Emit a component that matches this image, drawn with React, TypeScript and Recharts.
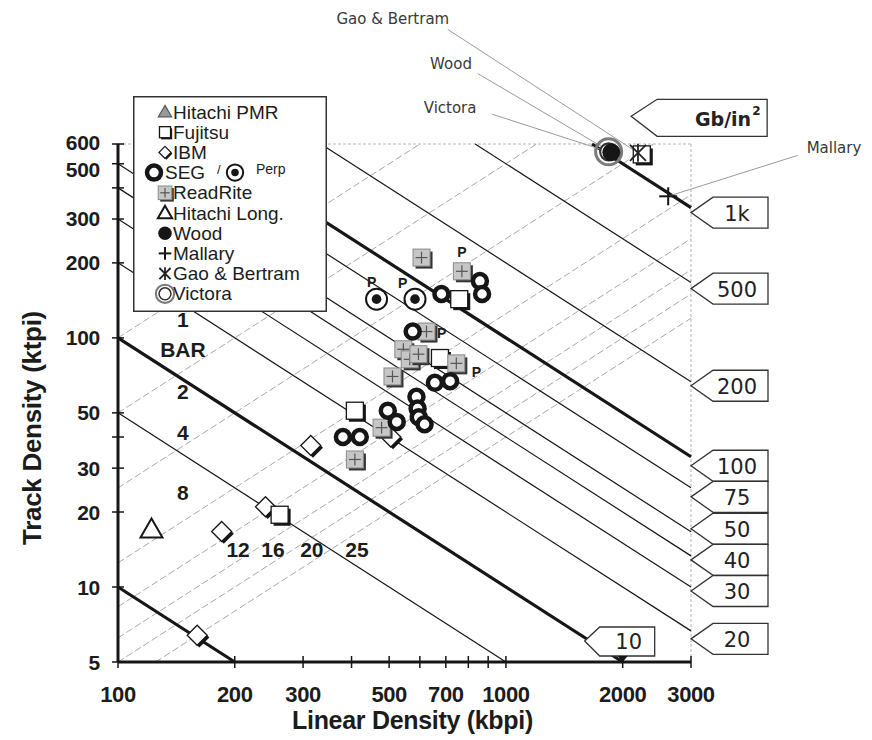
import React from 'react';
import { ScatterChart, Scatter, XAxis, YAxis, ReferenceLine, ReferenceDot, Label } from 'recharts';

type Pt = { x: number; y: number; text?: string };

// ---------- axes ----------
const xDomain = [100, 3000];
const yDomain = [5, 600];
const xTicks = [100, 200, 300, 400, 500, 600, 700, 800, 900, 1000, 2000, 3000];
const xTickLabels = [100, 200, 300, 500, 700, 1000, 2000, 3000];
const yTicks = [5, 10, 20, 30, 40, 50, 100, 200, 300, 400, 500, 600];
const yTickLabels = [5, 10, 20, 30, 50, 100, 200, 300, 500, 600];

// ---------- areal density lines (Gb/in^2) ----------
const arealDensities = [1, 5, 10, 20, 30, 40, 50, 75, 100, 200, 500, 1000];
const boldDensities = [1, 10, 100, 1000];
const rightTagDensities = [1000, 500, 200, 100, 75, 50, 40, 30, 20];
const rightTagTexts = ['1k', '500', '200', '100', '75', '50', '40', '30', '20'];
const rightTagDy = [5, 6, 4, 9, 9, -3, 4, 4, 8];
const bottomTagDensity = 10;
const bottomTagText = '10';

// ---------- bit aspect ratio lines ----------
const barValues = [1, 2, 4, 8, 12, 16, 20, 25];
const barLabelTexts = ['1', 'BAR', '2', '4', '8', '12', '16', '20', '25'];
const barLabelX = [147, 147, 147, 147, 147, 204, 251, 316, 413];
const barLabelY = [119, 90, 61, 41.7, 24, 14.1, 14.1, 14.1, 14.1];

const pLabelX = [451, 542, 770, 683, 840];
const pLabelY = [168, 166, 222, 105, 73];

// ---------- data series ----------
const hitachiPMR: Pt[] = [];
const fujitsu: Pt[] = [
  { x: 261, y: 19.5 }, { x: 408, y: 51 }, { x: 676, y: 83 }, { x: 758, y: 143 }, { x: 2240, y: 545 },
];
const ibm: Pt[] = [
  { x: 160, y: 6.4 }, { x: 185, y: 16.7 }, { x: 240, y: 21 }, { x: 314, y: 37 }, { x: 505, y: 40 },
];
const seg: Pt[] = [
  { x: 380, y: 40 }, { x: 420, y: 40 }, { x: 496, y: 51 }, { x: 523, y: 46 }, { x: 588, y: 58 },
  { x: 592, y: 52 }, { x: 596, y: 48 }, { x: 617, y: 45 }, { x: 656, y: 66 }, { x: 718, y: 67 },
  { x: 575, y: 106 }, { x: 682, y: 150 }, { x: 857, y: 169 }, { x: 868, y: 150 },
];
const perp: Pt[] = [{ x: 464, y: 143 }, { x: 583, y: 143 }];
const readRite: Pt[] = [
  { x: 408, y: 32.5 }, { x: 478, y: 43.6 }, { x: 510, y: 70 }, { x: 544, y: 90 }, { x: 565, y: 82 },
  { x: 595, y: 86 }, { x: 624, y: 106 }, { x: 606, y: 210 }, { x: 770, y: 185 }, { x: 745, y: 79 },
];
const hitachiLong: Pt[] = [{ x: 122, y: 17 }];
const wood: Pt[] = [{ x: 1870, y: 556 }];
const mallary: Pt[] = [{ x: 2620, y: 370 }];
const gaoBertram: Pt[] = [{ x: 2190, y: 553 }];
const victora: Pt[] = [{ x: 1840, y: 558 }];

// ---------- callouts ----------
const noteTexts = ['Gao & Bertram', 'Wood', 'Victora', 'Mallary'];
const noteTextX = [511, 722, 718, 7010];
const noteTextY = [1900, 1252, 840, 580];
const noteFromX = [708, 846, 922, 5650];
const noteFromY = [1730, 1150, 790, 540];
const noteTargets = [gaoBertram[0], wood[0], victora[0], mallary[0]];
const unitTagPos = { x: 2103, y: 775 };

const INK = '#161616';
const SANS = '"Liberation Sans", Arial, sans-serif';
const VERD = '"DejaVu Sans", Verdana, sans-serif';

// ---------- shapes ----------
const SquareOpen = ({ cx, cy, s = 1 }: any) => {
  const h = 8.5 * s;
  return (
    <g>
      <rect x={cx - h + 2.5 * s} y={cy - h + 2.5 * s} width={2 * h} height={2 * h} fill={INK} />
      <rect x={cx - h} y={cy - h} width={2 * h} height={2 * h} fill="#fff" stroke={INK} strokeWidth={1.3} />
    </g>
  );
};
const DiamondOpen = ({ cx, cy, s = 1 }: any) => {
  const h = 10 * s;
  const pts = (dx: number) =>
    `${cx + dx},${cy - h + dx} ${cx + h + dx},${cy + dx} ${cx + dx},${cy + h + dx} ${cx - h + dx},${cy + dx}`;
  return (
    <g>
      <polygon points={pts(2.2 * s)} fill={INK} />
      <polygon points={pts(0)} fill="#fff" stroke={INK} strokeWidth={1.3} />
    </g>
  );
};
const SegRing = ({ cx, cy, s = 1 }: any) => (
  <circle cx={cx} cy={cy} r={7 * s} fill="#fff" stroke={INK} strokeWidth={4.5 * s} />
);
const PerpMark = ({ cx, cy, s = 1 }: any) => (
  <g>
    <circle cx={cx} cy={cy} r={10.5 * s} fill="#fff" stroke={INK} strokeWidth={2} />
    <circle cx={cx} cy={cy} r={4.8 * s} fill={INK} />
  </g>
);
const ReadRiteMark = ({ cx, cy, s = 1 }: any) => {
  const h = 8.5 * s;
  return (
    <g>
      <rect x={cx - h + 2.5 * s} y={cy - h + 2.5 * s} width={2 * h} height={2 * h} fill="#333" />
      <rect x={cx - h} y={cy - h} width={2 * h} height={2 * h} fill="#c6c6c6" stroke="#8a8a8a" strokeWidth={1} />
      <line x1={cx - h * 0.7} y1={cy} x2={cx + h * 0.7} y2={cy} stroke="#555" strokeWidth={1.2} />
      <line x1={cx} y1={cy - h * 0.7} x2={cx} y2={cy + h * 0.7} stroke="#555" strokeWidth={1.2} />
    </g>
  );
};
const TriOpen = ({ cx, cy, s = 1 }: any) => (
  <polygon
    points={`${cx},${cy - 11 * s} ${cx + 11 * s},${cy + 8 * s} ${cx - 11 * s},${cy + 8 * s}`}
    fill="#fff" stroke={INK} strokeWidth={2} />
);
const TriFilled = ({ cx, cy, s = 1 }: any) => (
  <polygon
    points={`${cx},${cy - 11 * s} ${cx + 11 * s},${cy + 8 * s} ${cx - 11 * s},${cy + 8 * s}`}
    fill="#9a9a9a" stroke="#555" strokeWidth={1.2} />
);
const WoodDot = ({ cx, cy, s = 1 }: any) => <circle cx={cx} cy={cy} r={9 * s} fill={INK} />;
const PlusMark = ({ cx, cy, s = 1 }: any) => (
  <g stroke={INK} strokeWidth={2}>
    <line x1={cx - 9 * s} y1={cy} x2={cx + 9 * s} y2={cy} />
    <line x1={cx} y1={cy - 9 * s} x2={cx} y2={cy + 9 * s} />
  </g>
);
const AsteriskMark = ({ cx, cy, s = 1 }: any) => (
  <g stroke="#222" strokeWidth={1.8}>
    <line x1={cx} y1={cy - 9 * s} x2={cx} y2={cy + 9 * s} />
    <line x1={cx - 8 * s} y1={cy - 8 * s} x2={cx + 8 * s} y2={cy + 8 * s} />
    <line x1={cx - 8 * s} y1={cy + 8 * s} x2={cx + 8 * s} y2={cy - 8 * s} />
  </g>
);
const VictoraMark = ({ cx, cy, s = 1 }: any) => (
  <g fill="none">
    <circle cx={cx} cy={cy} r={13 * s} stroke="#7a7a7a" strokeWidth={3 * s} />
    <circle cx={cx} cy={cy} r={8.5 * s} stroke="#333" strokeWidth={2.2 * s} fill="#fff" />
  </g>
);
const TextMark = ({ cx, cy, payload, size, weight }: any) => (
  <text x={cx} y={cy} textAnchor="middle" dominantBaseline="central" fontFamily={SANS}
    fontWeight={weight} fontSize={size} fill="#1c1c1c">{payload?.text}</text>
);

// ---------- derived geometry ----------
function densitySegment(d: number) {
  const p = d * 1000;
  const x1 = Math.max(xDomain[0], p / yDomain[1]);
  const x2 = Math.min(xDomain[1], p / yDomain[0]);
  return [{ x: x1, y: p / x1 }, { x: x2, y: p / x2 }];
}
function barSegment(b: number) {
  const x1 = Math.max(xDomain[0], yDomain[0] * b);
  const x2 = Math.min(xDomain[1], yDomain[1] * b);
  return [{ x: x1, y: x1 / b }, { x: x2, y: x2 / b }];
}

const barLabels: Pt[] = barLabelTexts.map((t, i) => ({ x: barLabelX[i], y: barLabelY[i], text: t }));
const pLabels: Pt[] = pLabelX.map((x, i) => ({ x, y: pLabelY[i], text: 'P' }));

// ---------- ticks ----------
const XTick = ({ x, y, payload }: any) => (
  <g>
    <line x1={x} y1={y - 6} x2={x} y2={y + 6} stroke={INK} strokeWidth={1.5} />
    {xTickLabels.includes(payload.value) && (
      <text x={x} y={y + 40} textAnchor="middle" fontFamily={SANS} fontWeight="bold" fontSize={22}
        letterSpacing={-0.4} fill="#1c1c1c">{payload.value}</text>
    )}
  </g>
);
const yLabelShift: Record<number, number> = { 600: -2, 500: 6 };
const YTick = ({ x, y, payload }: any) => (
  <g>
    <line x1={x - 6} y1={y} x2={x + 6} y2={y} stroke={INK} strokeWidth={1.5} />
    {yTickLabels.includes(payload.value) && (
      <text x={x - 18} y={y + (yLabelShift[payload.value] || 0)} textAnchor="end" dominantBaseline="central"
        fontFamily={SANS} fontWeight="bold" fontSize={21} letterSpacing={-0.3} fill="#1c1c1c">{payload.value}</text>
    )}
  </g>
);

// ---------- tags ----------
const RightTag = ({ cx, cy, text, dy }: any) => {
  const t = cy + dy;
  const h = 15.5;
  const d = `M${cx},${t} L${cx + 22},${t - h} L${cx + 77},${t - h} L${cx + 77},${t + h} L${cx + 22},${t + h} Z`;
  return (
    <g>
      <path d={d} fill="#fff" stroke="#333" strokeWidth={1.3} />
      <text x={cx + 46} y={t + 1} textAnchor="middle" dominantBaseline="central" fontFamily={VERD}
        fontSize={21} fill="#222">{text}</text>
    </g>
  );
};
const BottomTag = ({ cx, cy, text }: any) => {
  const tx = cx - 38, ty = cy - 21;
  const d = `M${tx},${ty} L${cx - 23},${cy - 35} L${cx + 32},${cy - 35} L${cx + 32},${cy - 6} L${cx - 23},${cy - 6} Z`;
  return (
    <g>
      <path d={d} fill="#fff" stroke="#333" strokeWidth={1.3} />
      <polygon points={`${cx - 5},${cy - 6} ${cx + 5},${cy - 6} ${cx},${cy}`} fill={INK} />
      <text x={cx + 6} y={cy - 20} textAnchor="middle" dominantBaseline="central" fontFamily={VERD}
        fontSize={21} fill="#222">{text}</text>
    </g>
  );
};
const UnitTag = ({ cx, cy }: any) => {
  const d = `M${cx},${cy} L${cx + 26},${cy - 17} L${cx + 136},${cy - 17} L${cx + 136},${cy + 20} L${cx + 26},${cy + 20} Z`;
  return (
    <g>
      <path d={d} fill="#fff" stroke="#333" strokeWidth={1.3} />
      <text x={cx + 120} y={cy + 10} textAnchor="end" fontFamily={VERD} fontWeight="bold" fontSize={19} fill="#222">Gb/in</text>
      <text x={cx + 121} y={cy - 1} textAnchor="start" fontFamily={VERD} fontWeight="bold" fontSize={12} fill="#222">2</text>
    </g>
  );
};
const NoteText = ({ cx, cy, text }: any) => (
  <text x={cx} y={cy} textAnchor="middle" dominantBaseline="central" fontFamily={VERD} fontSize={15}
    fill="#3a3a3a">{text}</text>
);

// ---------- legend ----------
const legendNames = ['Hitachi PMR', 'Fujitsu', 'IBM', 'SEG', 'ReadRite', 'Hitachi Long.', 'Wood', 'Mallary', 'Gao & Bertram', 'Victora'];
const legendShapes: any[] = [TriFilled, SquareOpen, DiamondOpen, SegRing, ReadRiteMark, TriOpen, WoodDot, PlusMark, AsteriskMark, VictoraMark];
const legendScale = [0.6, 0.65, 0.6, 1, 0.8, 0.65, 0.75, 0.7, 0.7, 0.7];

const LegendBox = () => (
  <svg width={194} height={216} style={{ position: 'absolute', left: 125, top: 88, zIndex: 2 }}>
    <rect x={0.75} y={0.75} width={192.5} height={214.5} fill="#fff" stroke="#333" strokeWidth={1.5} />
    {legendNames.map((n, i) => {
      const cy = 16 + i * 20.2;
      const S = legendShapes[i];
      if (n === 'SEG') {
        return (
          <g key={n}>
            <S cx={21} cy={cy} s={1} />
            <text x={32} y={cy} dominantBaseline="central" fontFamily={SANS} fontSize={19} fill="#1c1c1c">SEG</text>
            <text x={84} y={cy - 3} dominantBaseline="central" fontFamily={SANS} fontSize={13} fill="#1c1c1c">/</text>
            <PerpMark cx={102} cy={cy} s={0.78} />
            <text x={123} y={cy - 4} dominantBaseline="central" fontFamily={SANS} fontSize={14} fill="#1c1c1c">Perp</text>
          </g>
        );
      }
      return (
        <g key={n}>
          <S cx={32} cy={cy} s={legendScale[i]} />
          <text x={40} y={cy} dominantBaseline="central" fontFamily={SANS} fontSize={19} fill="#1c1c1c">{n}</text>
        </g>
      );
    })}
  </svg>
);

const seriesList: { data: Pt[]; Shape: any }[] = [
  { data: hitachiPMR, Shape: TriFilled },
  { data: hitachiLong, Shape: TriOpen },
  { data: ibm, Shape: DiamondOpen },
  { data: fujitsu, Shape: SquareOpen },
  { data: readRite, Shape: ReadRiteMark },
  { data: seg, Shape: SegRing },
  { data: perp, Shape: PerpMark },
  { data: victora, Shape: VictoraMark },
  { data: wood, Shape: WoodDot },
  { data: gaoBertram, Shape: AsteriskMark },
  { data: mallary, Shape: PlusMark },
];

export default function App() {
  return (
    <div style={{ position: 'relative', width: 864, height: 732 }}>
      <ScatterChart width={864} height={732} margin={{ top: 136, right: 181, bottom: 0, left: 0 }}>
        <XAxis dataKey="x" type="number" scale="log" domain={xDomain} ticks={xTicks} interval={0}
          tick={<XTick />} tickLine={false} tickSize={0} tickMargin={0} height={78}
          axisLine={{ stroke: INK, strokeWidth: 3 }}>
          <Label content={({ viewBox }: any) => (
            <text x={viewBox.x + viewBox.width / 2 + 8} y={viewBox.y + 67} textAnchor="middle" fontFamily={SANS}
              fontWeight="bold" fontSize={25} letterSpacing={-0.3} fill="#1c1c1c">Linear Density (kbpi)</text>
          )} />
        </XAxis>
        <YAxis dataKey="y" type="number" scale="log" domain={yDomain} ticks={yTicks} interval={0}
          tick={<YTick />} tickLine={false} tickSize={0} tickMargin={0} width={110}
          axisLine={{ stroke: INK, strokeWidth: 3 }}>
          <Label content={({ viewBox }: any) => {
            const cx = viewBox.x + 24;
            const cy = viewBox.y + viewBox.height / 2 + 25;
            return (
              <text x={cx} y={cy} transform={`rotate(-90, ${cx}, ${cy})`} textAnchor="middle" dominantBaseline="central"
                fontFamily={SANS} fontWeight="bold" fontSize={26} letterSpacing={-0.3} fill="#1c1c1c">Track Density (ktpi)</text>
            );
          }} />
        </YAxis>

        {/* plot frame */}
        <ReferenceLine y={yDomain[1]} stroke="#b5b5b5" strokeWidth={1} strokeDasharray="3 2" ifOverflow="visible" />
        <ReferenceLine x={xDomain[1]} stroke="#b5b5b5" strokeWidth={1} strokeDasharray="3 2" ifOverflow="visible" />

        {/* bit aspect ratio lines */}
        {barValues.map((b) => (
          <ReferenceLine key={'bar' + b} segment={barSegment(b)} stroke="#a8a8a8" strokeWidth={1}
            strokeDasharray="7 3" ifOverflow="visible" />
        ))}

        {/* areal density lines */}
        {arealDensities.map((d) => (
          <ReferenceLine key={'ad' + d} segment={densitySegment(d)} stroke={INK}
            strokeWidth={boldDensities.includes(d) ? 3.2 : 1.2} ifOverflow="visible" />
        ))}

        {/* callout leader lines */}
        {noteTexts.map((t, i) => (
          <ReferenceLine key={'nl' + t} segment={[{ x: noteFromX[i], y: noteFromY[i] }, noteTargets[i]]}
            stroke="#9a9a9a" strokeWidth={1} ifOverflow="visible" />
        ))}

        {seriesList.map((s, i) => (
          <Scatter key={'s' + i} data={s.data} isAnimationActive={false}
            shape={(p: any) => <s.Shape cx={p.cx} cy={p.cy} />} />
        ))}

        <Scatter data={barLabels} isAnimationActive={false}
          shape={(p: any) => <TextMark {...p} size={21} weight="bold" />} />
        <Scatter data={pLabels} isAnimationActive={false}
          shape={(p: any) => <TextMark {...p} size={14} weight="bold" />} />

        {rightTagDensities.map((d, i) => (
          <ReferenceDot key={'rt' + d} x={xDomain[1]} y={(d * 1000) / xDomain[1]} r={0} ifOverflow="visible"
            shape={(p: any) => <RightTag cx={p.cx} cy={p.cy} text={rightTagTexts[i]} dy={rightTagDy[i]} />} />
        ))}
        <ReferenceDot x={(bottomTagDensity * 1000) / yDomain[0]} y={yDomain[0]} r={0} ifOverflow="visible"
          shape={(p: any) => <BottomTag cx={p.cx} cy={p.cy} text={bottomTagText} />} />
        <ReferenceDot x={unitTagPos.x} y={unitTagPos.y} r={0} ifOverflow="visible"
          shape={(p: any) => <UnitTag cx={p.cx} cy={p.cy} />} />
        {noteTexts.map((t, i) => (
          <ReferenceDot key={'nt' + t} x={noteTextX[i]} y={noteTextY[i]} r={0} ifOverflow="visible"
            shape={(p: any) => <NoteText cx={p.cx} cy={p.cy} text={t} />} />
        ))}
      </ScatterChart>
      <LegendBox />
    </div>
  );
}
